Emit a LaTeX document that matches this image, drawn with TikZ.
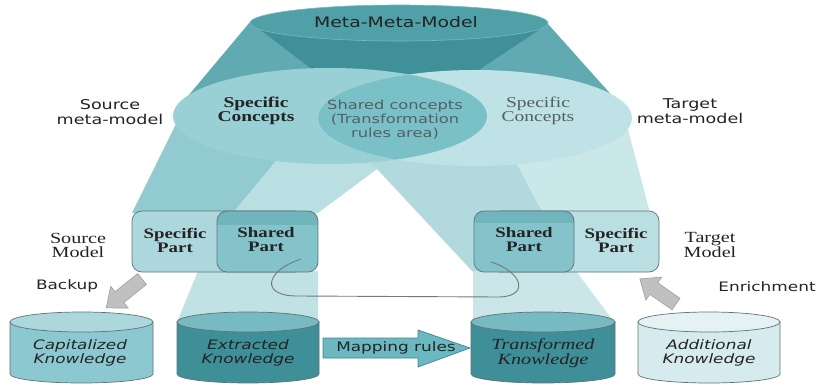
\documentclass[tikz,border=0pt]{standalone}
\usepackage{fontspec}
\newfontfamily\sanf{DejaVu Sans}[FakeStretch=1.3]
\newfontfamily\serf{Liberation Serif}[FakeStretch=1.3]
\usetikzlibrary{calc}
\definecolor{topE}{RGB}{80,160,168}
\definecolor{topRim}{RGB}{120,185,192}
\definecolor{funnel}{RGB}{64,144,153}
\definecolor{cone}{RGB}{98,170,178}
\definecolor{ellL}{RGB}{152,208,213}
\definecolor{ellR}{RGB}{190,226,229}
\definecolor{ellS}{RGB}{122,192,199}
\definecolor{beamA}{RGB}{145,203,209}
\definecolor{beamB}{RGB}{186,223,227}
\definecolor{beamC}{RGB}{192,226,229}
\definecolor{beamD}{RGB}{202,231,233}
\definecolor{beamE}{RGB}{178,218,222}
\definecolor{beamF}{RGB}{202,230,233}
\definecolor{boxSpec}{RGB}{172,216,221}
\definecolor{boxShared}{RGB}{132,195,202}
\definecolor{strip}{RGB}{112,180,188}
\definecolor{boxSpecR}{RGB}{186,223,227}
\definecolor{cylLight}{RGB}{140,200,207}
\definecolor{cylLightTop}{RGB}{172,216,221}
\definecolor{cylDark}{RGB}{62,143,151}
\definecolor{cylDarkTop}{RGB}{120,186,193}
\definecolor{cylPale}{RGB}{214,235,238}
\definecolor{cylPaleTop}{RGB}{228,242,244}
\definecolor{edge}{RGB}{95,115,120}
\definecolor{txt}{RGB}{35,35,35}
\definecolor{txtgray}{RGB}{85,95,98}
\definecolor{arrowfill}{RGB}{108,184,192}
\definecolor{arrowedge}{RGB}{60,135,145}
\definecolor{grayarrow}{RGB}{192,192,192}
\definecolor{grayedge}{RGB}{160,160,160}
\definecolor{curvecol}{RGB}{120,120,120}
\newcommand{\drawcyl}[4]{%
  \pgfmathsetmacro{\cylcx}{(#1+#2)/2}%
  \pgfmathsetmacro{\cylrx}{(#2-#1)/2}%
  \filldraw[fill=#3, draw=edge, line width=0.7pt] (#1,322) -- (#1,374) arc[start angle=180, end angle=0, x radius=\cylrx, y radius=9] -- (#2,322) -- cycle;
  \filldraw[fill=#4, draw=edge, line width=0.7pt] (\cylcx,322) ellipse[x radius=\cylrx, y radius=10];
}
\begin{document}
\begin{tikzpicture}[x=1pt,y=-1pt,
  lab/.style={align=center, inner sep=0pt, text=txt},
  fmeta/.style={lab, font=\sanf\fontsize{14.5}{16}\selectfont},
  fmm/.style={lab, font=\sanf\fontsize{13.5}{15}\selectfont},
  fshared/.style={lab, text=txtgray, font=\sanf\fontsize{12.5}{14}\selectfont},
  fsmall/.style={lab, font=\sanf\fontsize{13}{14}\selectfont},
  fcyl/.style={lab, font=\sanf\itshape\fontsize{13}{13.5}\selectfont},
  fpart/.style={lab, font=\serf\bfseries\fontsize{14.5}{14}\selectfont},
  fconc/.style={lab, font=\serf\bfseries\fontsize{15}{13.5}\selectfont},
  fconcR/.style={lab, text=txtgray, font=\serf\fontsize{15}{13.5}\selectfont},
  fmodel/.style={lab, font=\serf\fontsize{15.5}{14}\selectfont},
  fcylit/.style={lab, font=\serf\itshape\fontsize{15.5}{13.5}\selectfont},
  boxline/.style={draw=edge, line width=0.7pt, rounded corners=10pt},
  blockgray/.style={fill=grayarrow, draw=grayedge, line width=0.6pt},
  curveline/.style={draw=curvecol, line width=0.9pt}
]
\useasboundingbox (0,0) rectangle (817,385);
\fill[white] (0,0) rectangle (817,385);

% cones from the meta-meta-model
\fill[cone] (250,22) -- (548,24) -- (440,98) -- (173,114) -- cycle;
\fill[cone] (250,22) -- (548,24) -- (632,118) -- (353,98) -- cycle;
\fill[funnel] (250,22) -- (548,24) -- (390,129) -- cycle;
\filldraw[fill=topE, draw=topRim, line width=0.6pt] (399,23) ellipse[x radius=149, y radius=18];

% beams below the meta-models
\fill[beamA] (180,116) -- (310,120) -- (233,213) -- (132,213) -- cycle;
\fill[beamB] (310,120) -- (417,140) -- (377,169) -- (318,213) -- (233,213) -- cycle;
\fill[beamE] (350,140) -- (473,272) -- (560,272) -- (543,213) -- (499,130) -- cycle;
\fill[beamD] (499,130) -- (543,213) -- (650,213) -- (625,118) -- cycle;

% meta-models
\fill[ellL] (330,116) ellipse[x radius=157, y radius=48];
\fill[ellR] (475,118) ellipse[x radius=157, y radius=48];
\begin{scope}
  \clip (330,116) ellipse[x radius=157, y radius=48];
  \fill[ellS] (475,118) ellipse[x radius=157, y radius=48];
\end{scope}

% beams below the models
\fill[beamC] (198,271) -- (318,271) -- (318,322) -- (177,322) -- cycle;
\fill[beamF] (473,271) -- (576,271) -- (614,322) -- (473,322) -- cycle;

% source model
\filldraw[boxline, fill=boxSpec] (132,211) rectangle (305,272);
\begin{scope}
  \clip[rounded corners=10pt] (217,211) rectangle (318,272);
  \fill[boxShared] (217,211) rectangle (318,272);
  \fill[strip] (217,211) rectangle (318,225);
\end{scope}
\draw[boxline] (217,211) rectangle (318,272);

% target model
\filldraw[boxline, fill=boxSpecR] (490,211) rectangle (659,272);
\begin{scope}
  \clip[rounded corners=10pt] (474,211) rectangle (574,272);
  \fill[boxShared] (474,211) rectangle (574,272);
  \fill[strip] (474,211) rectangle (574,223);
\end{scope}
\draw[boxline] (474,211) rectangle (574,272);

% knowledge bases
\drawcyl{10}{153}{cylLight}{cylLightTop}
\drawcyl{177}{319}{cylDark}{cylDarkTop}
\drawcyl{471}{615}{cylDark}{cylDarkTop}
\drawcyl{638}{780}{cylPale}{cylPaleTop}

% mapping rules arrow
\filldraw[fill=arrowfill, draw=arrowedge, line width=0.7pt]
  (323,338) -- (418,338) -- (418,330) -- (470,348) -- (418,367) -- (418,358) -- (323,358) -- cycle;

% backup arrow
\begin{scope}[shift={(142,279)}, rotate=-141.1]
  \filldraw[blockgray] (0,-7) -- (29,-7) -- (29,-14) -- (46,0) -- (29,14) -- (29,7) -- (0,7) -- cycle;
\end{scope}
% enrichment arrow
\begin{scope}[shift={(676,304)}, rotate=145.2]
  \filldraw[blockgray] (0,-7) -- (27,-7) -- (27,-14) -- (44,0) -- (27,14) -- (27,7) -- (0,7) -- cycle;
\end{scope}

% link between the shared parts
\coordinate (srcShared) at (301,259);
\coordinate (tgtShared) at (491,262);
\draw[curveline] (srcShared) .. controls (265,271) and (260,296) .. (297,296)
  -- (498,297) .. controls (530,297) and (523,272) .. (tgtShared);

% texts
\node[fmeta] (meta) at (396,22) {Meta-Meta-Model};
\node[fmm] (srcmm) at (110,112) {Source\\meta-model};
\node[fmm] (tgtmm) at (690,111) {Target\\meta-model};
\node[fconc] (specL) at (256,111) {Specific\\Concepts};
\node[fshared] (sharedC) at (395,120) {Shared concepts\\(Transformation\\rules area)};
\node[fconcR] (specR) at (538,111) {Specific\\Concepts};
\node[fmodel] (srcModel) at (78,245) {Source\\Model};
\node[fmodel] (tgtModel) at (710,245) {Target\\Model};
\node[fpart] (specPartL) at (175,240) {Specific\\Part};
\node[fpart] (sharedPartL) at (266,240) {Shared\\Part};
\node[fpart] (sharedPartR) at (524,240) {Shared\\Part};
\node[fpart] (specPartR) at (616,240) {Specific\\Part};
\node[fsmall] (backup) at (67,286) {Backup};
\node[fsmall] (enrich) at (767,287) {Enrichment};
\node[fsmall] (mapping) at (396,348) {Mapping rules};
\node[fcyl] (capK) at (80,353) {Capitalized\\Knowledge};
\node[fcyl] (extK) at (248,353) {Extracted\\Knowledge};
\node[fcylit] (trK) at (543,353) {Transformed\\Knowledge};
\node[fcyl] (addK) at (709,353) {Additional\\Knowledge};
\end{tikzpicture}
\end{document}
